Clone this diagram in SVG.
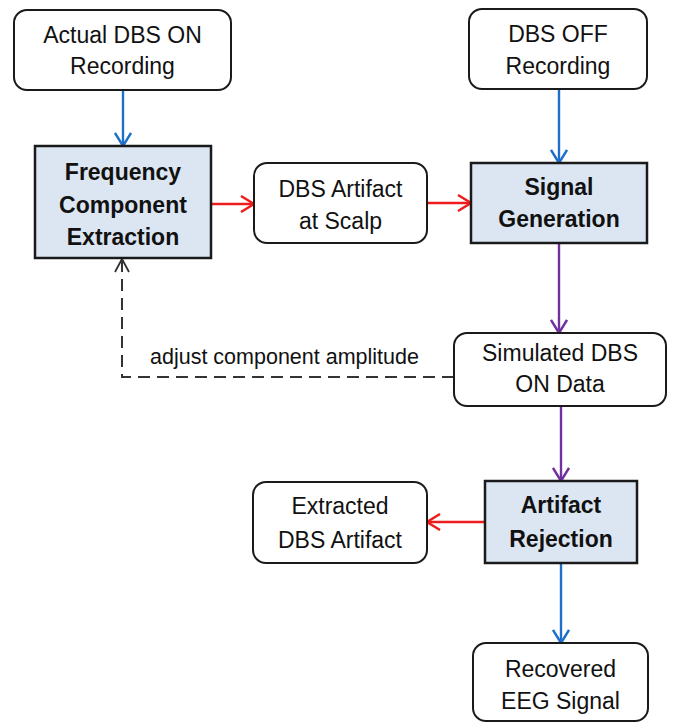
<svg xmlns="http://www.w3.org/2000/svg" width="673" height="723" viewBox="0 0 673 723">
<style>
.box{fill:#ffffff;stroke:#1a1a1a;stroke-width:2}
.proc{fill:#dce6f2;stroke:#1a1a1a;stroke-width:2.5}
text{font-family:"Liberation Sans",Arial,sans-serif;font-size:23px;fill:#111;text-anchor:middle}
.b{font-weight:bold}
.lbl{font-size:21.5px;text-anchor:start}
.c{fill:none;stroke-width:2.4}
.blue{stroke:#1e6fc8}
.red{stroke:#ee1c1c}
.purple{stroke:#7030a0}
.dash{stroke:#333;stroke-width:2;stroke-dasharray:12 7}
</style>
<defs>
<marker id="ab" markerUnits="userSpaceOnUse" markerWidth="16" markerHeight="18" viewBox="0 0 16 18" refX="14" refY="9" orient="auto"><path d="M1,1 L14,9 L1,17" fill="none" stroke="#1e6fc8" stroke-width="2.4"/></marker>
<marker id="ar" markerUnits="userSpaceOnUse" markerWidth="16" markerHeight="18" viewBox="0 0 16 18" refX="14" refY="9" orient="auto"><path d="M1,1 L14,9 L1,17" fill="none" stroke="#ee1c1c" stroke-width="2.4"/></marker>
<marker id="ap" markerUnits="userSpaceOnUse" markerWidth="16" markerHeight="18" viewBox="0 0 16 18" refX="14" refY="9" orient="auto"><path d="M1,1 L14,9 L1,17" fill="none" stroke="#7030a0" stroke-width="2.4"/></marker>
<marker id="ak" markerUnits="userSpaceOnUse" markerWidth="16" markerHeight="18" viewBox="0 0 16 18" refX="14" refY="9" orient="auto"><path d="M1,2 L14,9 L1,16" fill="none" stroke="#333" stroke-width="1.8"/></marker>
</defs>
<g id="connectors">
<line class="c blue" x1="123" y1="90" x2="123" y2="146" marker-end="url(#ab)"/>
<line class="c blue" x1="559" y1="89" x2="559" y2="163" marker-end="url(#ab)"/>
<line class="c red" x1="211" y1="204" x2="254" y2="204" marker-end="url(#ar)"/>
<line class="c red" x1="427" y1="203" x2="471" y2="203" marker-end="url(#ar)"/>
<line class="c purple" x1="559" y1="243" x2="559" y2="333" marker-end="url(#ap)"/>
<line class="c purple" x1="561" y1="406" x2="561" y2="481" marker-end="url(#ap)"/>
<line class="c red" x1="485" y1="522" x2="427" y2="522" marker-end="url(#ar)"/>
<line class="c blue" x1="561" y1="563" x2="561" y2="643" marker-end="url(#ab)"/>
<polyline class="c dash" points="454,377 122,377 122,259" marker-end="url(#ak)"/>
<text class="lbl" x="150" y="364">adjust component amplitude</text>
</g>
<g id="actual-on">
<rect class="box" x="14" y="10" width="217" height="80" rx="13"/>
<text x="122.5" y="43">Actual DBS ON</text>
<text x="122.5" y="74">Recording</text>
</g>
<g id="dbs-off">
<rect class="box" x="469" y="9" width="178" height="80" rx="13"/>
<text x="558" y="42">DBS OFF</text>
<text x="558" y="74">Recording</text>
</g>
<g id="fce">
<rect class="proc" x="35" y="146" width="176" height="112"/>
<text class="b" x="123" y="180">Frequency</text>
<text class="b" x="123" y="213">Component</text>
<text class="b" x="123" y="245">Extraction</text>
</g>
<g id="artifact-scalp">
<rect class="box" x="254" y="163" width="173" height="80" rx="13"/>
<text x="340.5" y="197">DBS Artifact</text>
<text x="340.5" y="229">at Scalp</text>
</g>
<g id="signal-gen">
<rect class="proc" x="471" y="163" width="176" height="80"/>
<text class="b" x="559" y="195">Signal</text>
<text class="b" x="559" y="227">Generation</text>
</g>
<g id="simulated">
<rect class="box" x="454" y="333" width="212" height="73" rx="13"/>
<text x="560" y="361">Simulated DBS</text>
<text x="560" y="392">ON Data</text>
</g>
<g id="artifact-rejection">
<rect class="proc" x="485" y="481" width="152" height="82"/>
<text class="b" x="561" y="513">Artifact</text>
<text class="b" x="561" y="547">Rejection</text>
</g>
<g id="extracted">
<rect class="box" x="253" y="482" width="174" height="81" rx="13"/>
<text x="340" y="514">Extracted</text>
<text x="340" y="548">DBS Artifact</text>
</g>
<g id="recovered">
<rect class="box" x="473" y="643" width="175" height="78" rx="13"/>
<text x="560.5" y="677">Recovered</text>
<text x="560.5" y="709">EEG Signal</text>
</g>
</svg>
